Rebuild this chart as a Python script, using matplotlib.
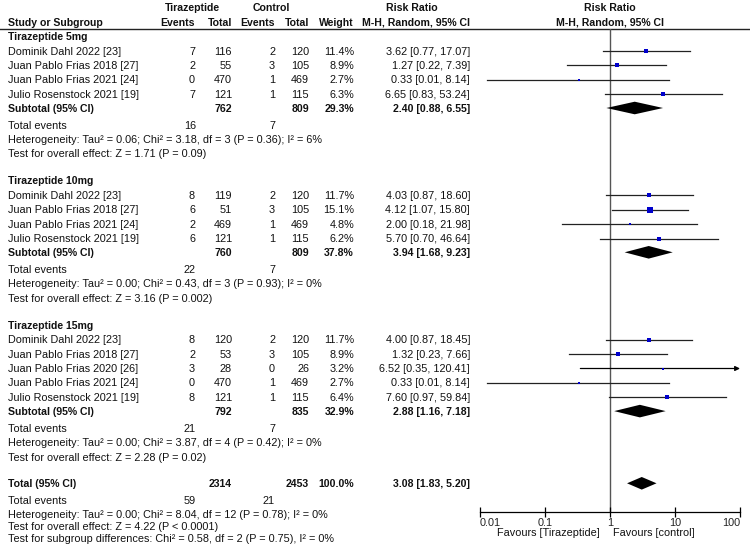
import matplotlib
matplotlib.use('Agg')
import matplotlib.pyplot as plt
from matplotlib.ticker import NullLocator

plt.rcParams['font.family'] = ['Liberation Sans', 'DejaVu Sans']

# ---------------- data ----------------
groups = ['Tirazeptide 5mg', 'Tirazeptide 10mg', 'Tirazeptide 15mg']

studies_5 = ['Dominik Dahl 2022 [23]', 'Juan Pablo Frias 2018 [27]',
             'Juan Pablo Frias 2021 [24]', 'Julio Rosenstock 2021 [19]']
ev_t_5 = [7, 2, 0, 7]
tot_t_5 = [116, 55, 470, 121]
ev_c_5 = [2, 3, 1, 1]
tot_c_5 = [120, 105, 469, 115]
weight_5 = [11.4, 8.9, 2.7, 6.3]
rr_5 = [3.62, 1.27, 0.33, 6.65]
lo_5 = [0.77, 0.22, 0.013, 0.83]
hi_5 = [17.07, 7.39, 8.14, 53.24]

studies_10 = ['Dominik Dahl 2022 [23]', 'Juan Pablo Frias 2018 [27]',
              'Juan Pablo Frias 2021 [24]', 'Julio Rosenstock 2021 [19]']
ev_t_10 = [8, 6, 2, 6]
tot_t_10 = [119, 51, 469, 121]
ev_c_10 = [2, 3, 1, 1]
tot_c_10 = [120, 105, 469, 115]
weight_10 = [11.7, 15.1, 4.8, 6.2]
rr_10 = [4.03, 4.12, 2.00, 5.70]
lo_10 = [0.87, 1.07, 0.18, 0.70]
hi_10 = [18.60, 15.80, 21.98, 46.64]

studies_15 = ['Dominik Dahl 2022 [23]', 'Juan Pablo Frias 2018 [27]',
              'Juan Pablo Frias 2020 [26]', 'Juan Pablo Frias 2021 [24]',
              'Julio Rosenstock 2021 [19]']
ev_t_15 = [8, 2, 3, 0, 8]
tot_t_15 = [120, 53, 28, 470, 121]
ev_c_15 = [2, 3, 0, 1, 1]
tot_c_15 = [120, 105, 26, 469, 115]
weight_15 = [11.7, 8.9, 3.2, 2.7, 6.4]
rr_15 = [4.00, 1.32, 6.52, 0.33, 7.60]
lo_15 = [0.87, 0.23, 0.35, 0.013, 0.97]
hi_15 = [18.45, 7.66, 120.41, 8.14, 59.84]

sub_tot_t = [762, 760, 792]
sub_tot_c = [809, 809, 835]
sub_weight = [29.3, 37.8, 32.9]
sub_rr = [2.40, 3.94, 2.88]
sub_lo = [0.88, 1.68, 1.16]
sub_hi = [6.55, 9.23, 7.18]
sub_ev_t = [16, 22, 21]
sub_ev_c = [7, 7, 7]
sub_het = ['Heterogeneity: Tau² = 0.06; Chi² = 3.18, df = 3 (P = 0.36); I² = 6%',
           'Heterogeneity: Tau² = 0.00; Chi² = 0.43, df = 3 (P = 0.93); I² = 0%',
           'Heterogeneity: Tau² = 0.00; Chi² = 3.87, df = 4 (P = 0.42); I² = 0%']
sub_test = ['Test for overall effect: Z = 1.71 (P = 0.09)',
            'Test for overall effect: Z = 3.16 (P = 0.002)',
            'Test for overall effect: Z = 2.28 (P = 0.02)']

total_tot_t = 2314
total_tot_c = 2453
total_weight = 100.0
total_rr = 3.08
total_lo = 1.83
total_hi = 5.20
total_ev_t = 59
total_ev_c = 21
total_het = 'Heterogeneity: Tau² = 0.00; Chi² = 8.04, df = 12 (P = 0.78); I² = 0%'
total_test = 'Test for overall effect: Z = 4.22 (P < 0.0001)'
subgroup_test = 'Test for subgroup differences: Chi² = 0.58, df = 2 (P = 0.75), I² = 0%'

tick_values = [0.01, 0.1, 1, 10, 100]
tick_labels = ['0.01', '0.1', '1', '10', '100']
favours_left = 'Favours [Tirazeptide]'
favours_right = 'Favours [control]'

group_data = [
    (studies_5, ev_t_5, tot_t_5, ev_c_5, tot_c_5, weight_5, rr_5, lo_5, hi_5),
    (studies_10, ev_t_10, tot_t_10, ev_c_10, tot_c_10, weight_10, rr_10, lo_10, hi_10),
    (studies_15, ev_t_15, tot_t_15, ev_c_15, tot_c_15, weight_15, rr_15, lo_15, hi_15),
]

# ---------------- layout ----------------
W, H = 750, 548
FS = 7.85
FSB = 7.55
TXT_DY = 0.6
X_NAME, X_EV_T, X_TOT_T, X_EV_C, X_TOT_C, X_W, X_RR = 8, 195, 232, 275, 309, 354, 470
AX_L, AX_R, AX_TOP, AX_BOT = 480, 740, 29.3, 512.3
PITCH = 14.4
GROUP_START = [51.0, 195.3, 339.7]
SUB_GAP, TE_GAP = 13.8, 17.0
TOTAL_Y = 483.3
TOTAL_LINES = [16.7, 30.7, 43.0, 55.3]
BLUE = '#0000cc'

fig = plt.figure(figsize=(W / 100, H / 100), dpi=100)
bg = fig.add_axes([0, 0, 1, 1])
bg.set_xlim(0, W)
bg.set_ylim(H, 0)
bg.axis('off')

ax = fig.add_axes([AX_L / W, 1 - AX_BOT / H, (AX_R - AX_L) / W, (AX_BOT - AX_TOP) / H])
ax.set_xscale('log')
ax.set_xlim(tick_values[0], tick_values[-1])
ax.set_ylim(AX_BOT, AX_TOP)
ax.patch.set_alpha(0)
for s in ['top', 'left', 'right']:
    ax.spines[s].set_visible(False)
ax.spines['bottom'].set_linewidth(0.9)
ax.set_yticks([])
ax.set_xticks(tick_values)
ax.set_xticklabels(tick_labels)
ax.xaxis.set_minor_locator(NullLocator())
ax.tick_params(axis='x', direction='inout', length=7, width=0.9, labelsize=FS, pad=0.8,
               colors='black', labelcolor='#222222')
tl = ax.get_xticklabels()
tl[0].set_ha('left')
tl[-1].set_ha('right')
ax.axvline(1, color='#555555', lw=1.0, zorder=1)


def txt(x, y, s, ha='left', bold=False):
    bg.text(x, y + TXT_DY, s, ha=ha, va='center', fontsize=FSB if bold else FS,
            fontweight='bold' if bold else 'normal', color='#111111')


# headers
txt(192.5, 7.3, 'Tirazeptide', ha='center', bold=True)
txt(271, 7.3, 'Control', ha='center', bold=True)
txt(412, 7.3, 'Risk Ratio', ha='center', bold=True)
txt(609.7, 7.3, 'Risk Ratio', ha='center', bold=True)
hy = 22.3
txt(X_NAME, hy, 'Study or Subgroup', bold=True)
txt(X_EV_T, hy, 'Events', ha='right', bold=True)
txt(X_TOT_T, hy, 'Total', ha='right', bold=True)
txt(X_EV_C, hy, 'Events', ha='right', bold=True)
txt(X_TOT_C, hy, 'Total', ha='right', bold=True)
txt(X_W, hy, 'Weight', ha='right', bold=True)
txt(X_RR, hy, 'M-H, Random, 95% CI', ha='right', bold=True)
txt(609.7, hy, 'M-H, Random, 95% CI', ha='center', bold=True)
bg.plot([0, W], [AX_TOP, AX_TOP], color='#222222', lw=1.0)


def ci_text(r, l, h):
    return f'{r:.2f} [{l:.2f}, {h:.2f}]'


def diamond(y, r, l, h):
    ax.fill([l, r, h, r], [y, y - 6.3, y, y + 6.3], color='black', lw=0, zorder=3)


for gi, gname in enumerate(groups):
    names, evt, tott, evc, totc, wts, rrs, los, his = group_data[gi]
    y0 = GROUP_START[gi]
    txt(X_NAME, y0 - PITCH, gname, bold=True)
    y = y0
    for k in range(len(names)):
        y = y0 + PITCH * k
        txt(X_NAME, y, names[k])
        txt(X_EV_T, y, str(evt[k]), ha='right')
        txt(X_TOT_T, y, str(tott[k]), ha='right')
        txt(X_EV_C, y, str(evc[k]), ha='right')
        txt(X_TOT_C, y, str(totc[k]), ha='right')
        txt(X_W, y, f'{wts[k]:.1f}%', ha='right')
        txt(X_RR, y, ci_text(rrs[k], los[k], his[k]), ha='right')
        # forest marks
        hi_draw = min(his[k], tick_values[-1])
        if his[k] > tick_values[-1]:
            ax.annotate('', xy=(hi_draw, y), xytext=(los[k], y),
                        arrowprops=dict(arrowstyle='-|>', color='black', lw=0.9,
                                        mutation_scale=7, shrinkA=0, shrinkB=0),
                        annotation_clip=False, zorder=2)
        else:
            ax.plot([los[k], hi_draw], [y, y], color='#222222', lw=0.9, zorder=2,
                    clip_on=False)
        side_px = max(2.3, 1.3 * wts[k] ** 0.5)
        ax.plot([rrs[k]], [y], marker='s', color=BLUE, markersize=side_px * 0.72,
                markeredgewidth=0, zorder=4, clip_on=False)
    ys = y + SUB_GAP
    txt(X_NAME, ys, 'Subtotal (95% CI)', bold=True)
    txt(X_TOT_T, ys, str(sub_tot_t[gi]), ha='right', bold=True)
    txt(X_TOT_C, ys, str(sub_tot_c[gi]), ha='right', bold=True)
    txt(X_W, ys, f'{sub_weight[gi]:.1f}%', ha='right', bold=True)
    txt(X_RR, ys, ci_text(sub_rr[gi], sub_lo[gi], sub_hi[gi]), ha='right', bold=True)
    diamond(ys, sub_rr[gi], sub_lo[gi], sub_hi[gi])
    yt = ys + TE_GAP
    txt(X_NAME, yt, 'Total events')
    txt(X_EV_T + 1, yt, str(sub_ev_t[gi]), ha='right')
    txt(X_EV_C, yt, str(sub_ev_c[gi]), ha='right')
    txt(X_NAME, yt + PITCH, sub_het[gi])
    txt(X_NAME, yt + 2 * PITCH, sub_test[gi])

# overall total
yT = TOTAL_Y
txt(X_NAME, yT, 'Total (95% CI)', bold=True)
txt(X_TOT_T, yT, str(total_tot_t), ha='right', bold=True)
txt(X_TOT_C, yT, str(total_tot_c), ha='right', bold=True)
txt(X_W, yT, f'{total_weight:.1f}%', ha='right', bold=True)
txt(X_RR, yT, ci_text(total_rr, total_lo, total_hi), ha='right', bold=True)
diamond(yT, total_rr, total_lo, total_hi)
txt(X_NAME, yT + TOTAL_LINES[0], 'Total events')
txt(X_EV_T + 1, yT + TOTAL_LINES[0], str(total_ev_t), ha='right')
txt(X_EV_C, yT + TOTAL_LINES[0], str(total_ev_c), ha='right')
txt(X_NAME, yT + TOTAL_LINES[1], total_het)
txt(X_NAME, yT + TOTAL_LINES[2], total_test)
txt(X_NAME, yT + TOTAL_LINES[3], subgroup_test)

# favours labels
txt(600, 532.3, favours_left, ha='right')
txt(613, 532.3, favours_right, ha='left')

fig.savefig('out.png', dpi=100)
